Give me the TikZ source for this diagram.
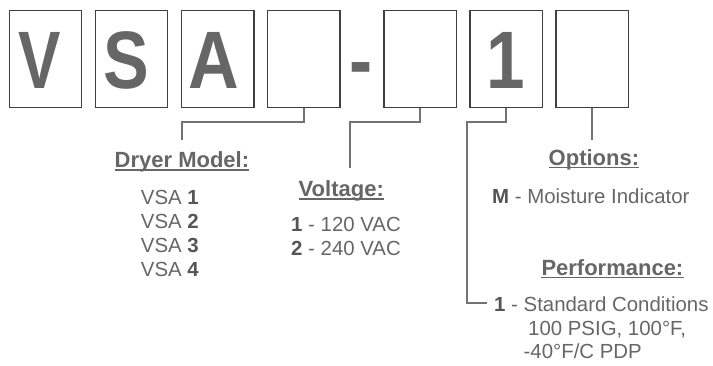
\documentclass[tikz,border=0pt]{standalone}
\usepackage{fontspec}
\setmainfont{Liberation Sans}
\usepackage{graphicx}
\definecolor{txt}{HTML}{666666}
\definecolor{bold}{HTML}{555555}
\definecolor{frame}{HTML}{404040}
\definecolor{conn}{HTML}{737373}
\begin{document}
\begin{tikzpicture}[x=1pt,y=-1pt,
  box/.style={draw=frame,line width=1.4pt,minimum width=72.5pt,minimum height=96.6pt,inner sep=0pt},
  big/.style={anchor=base,inner sep=0pt,text=txt,font=\fontsize{81.5}{90}\selectfont\bfseries},
  head/.style={anchor=base west,inner sep=0pt,text=txt,font=\fontsize{22}{26}\selectfont\bfseries},
  body/.style={anchor=base west,inner sep=0pt,text=txt,font=\fontsize{20.4}{24}\selectfont},
  conn/.style={draw=conn,line width=2.1pt},
  uline/.style={draw=txt,line width=1.7pt}]
\useasboundingbox (0,0) rectangle (713,365);
% boxes
\node[box] (b1) at (45.5,59) {};
\node[box] (b2) at (131.5,59) {};
\node[box] (b3) at (217.8,59) {};
\node[box] (b4) at (303.7,59) {};
\node[box] (b5) at (420.3,59) {};
\node[box] (b6) at (506.2,59) {};
\node[box] (b7) at (592.2,59) {};
% big letters
\node[big] (lv) at (39.2,88.3) {\scalebox{0.78}[1]{V}};
\node[big] (ls) at (126.3,88.3) {\scalebox{0.84}[1]{S}};
\node[big] (la) at (214,88.3) {\scalebox{0.86}[1]{A}};
\node[big] (ld) at (361,88.3) {\scalebox{0.85}[1]{-}};
\node[big] (l1) at (506,88.3) {\scalebox{0.85}[1]{1}};
% headings
\node[head] (dm) at (114.5,167.7) {Dryer Model:};
\node[head] (vo) at (298.5,196.5) {Voltage:};
\node[head] (op) at (548.5,165) {Options:};
\node[head] (pe) at (541.3,275) {Performance:};
\foreach \n in {dm,vo,op,pe}
  \draw[uline] ([yshift=-2.6pt]\n.base west) -- ([yshift=-2.6pt]\n.base east);
% body text
\node[body] (v1) at (140.7,204) {VSA \textcolor{bold}{\bfseries 1}};
\node[body] (v2) at (140.7,228) {VSA \textcolor{bold}{\bfseries 2}};
\node[body] (v3) at (140.7,252) {VSA \textcolor{bold}{\bfseries 3}};
\node[body] (v4) at (140.7,276) {VSA \textcolor{bold}{\bfseries 4}};
\node[body] (t1) at (291,231.5) {\textcolor{bold}{\bfseries 1} - 120 VAC};
\node[body] (t2) at (291,255) {\textcolor{bold}{\bfseries 2} - 240 VAC};
\node[body] (mo) at (492,203.3) {\textcolor{bold}{\bfseries M} - Moisture Indicator};
\node[body] (s1) at (494,311.7) {\textcolor{bold}{\bfseries 1} - Standard Conditions};
\node[body] (s2) at (528,335) {100 PSIG, 100°F,};
\node[body] (s3) at (523.5,358.3) {-40°F/C PDP};
% connector ends
\coordinate (dmtop) at (181.7,140);
\coordinate (votop) at (350,168);
\coordinate (optop) at (592.2,140);
\coordinate (pecorner) at (466.7,303.3);
\coordinate (peend) at (486.7,303.3);
% connectors
\draw[conn] (b4.south) -- ++(0,14.4) -| (dmtop);
\draw[conn] (b5.south) -- ++(0,14.4) -| (votop);
\draw[conn] (b6.south) -- ++(0,14.4) -| (pecorner) -- (peend);
\draw[conn] (b7.south) -- (optop);
\end{tikzpicture}
\end{document}
